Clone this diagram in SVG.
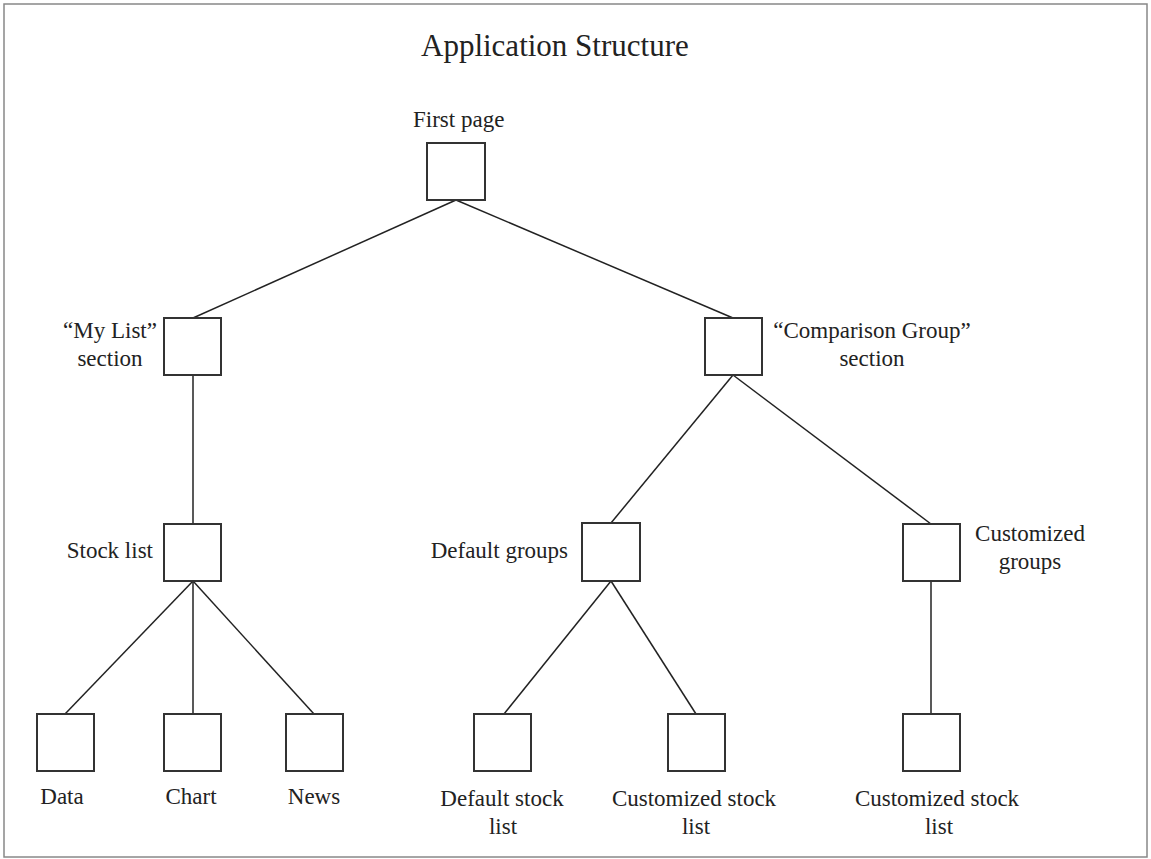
<svg xmlns="http://www.w3.org/2000/svg" width="1151" height="859" viewBox="0 0 1151 859">
<style>
.box{fill:#fff;stroke:#333;stroke-width:2}
.ln{stroke:#222;stroke-width:1.5;fill:none}
text{font-family:"Liberation Serif","Times New Roman",serif;font-size:23px;fill:#222}
.t{font-size:31px}
.m{text-anchor:middle}
.e{text-anchor:end}
</style>
<rect x="0" y="0" width="1151" height="859" fill="#fff"/>
<rect x="4" y="4" width="1143" height="853" fill="none" stroke="#888" stroke-width="1.5"/>
<text class="t" x="421" y="56">Application Structure</text>
<g id="connectors">
<line class="ln" x1="456" y1="200" x2="193" y2="318"/>
<line class="ln" x1="456" y1="200" x2="733" y2="318"/>
<line class="ln" x1="193" y1="375" x2="193" y2="524"/>
<line class="ln" x1="193" y1="581" x2="65" y2="714"/>
<line class="ln" x1="193" y1="581" x2="193" y2="714"/>
<line class="ln" x1="193" y1="581" x2="314" y2="714"/>
<line class="ln" x1="733" y1="375" x2="611" y2="523"/>
<line class="ln" x1="733" y1="375" x2="931" y2="524"/>
<line class="ln" x1="611" y1="581" x2="504" y2="714"/>
<line class="ln" x1="611" y1="581" x2="696" y2="714"/>
<line class="ln" x1="931" y1="581" x2="931" y2="714"/>
</g>
<g id="first-page"><rect class="box" x="427" y="143" width="58" height="57"/><text x="413" y="127">First page</text></g>
<g id="my-list"><rect class="box" x="164" y="318" width="57" height="57"/><text class="m" x="110" y="338">“My List”</text><text class="m" x="110" y="366">section</text></g>
<g id="comparison"><rect class="box" x="705" y="318" width="57" height="57"/><text class="m" x="872" y="338">“Comparison Group”</text><text class="m" x="872" y="366">section</text></g>
<g id="stock-list"><rect class="box" x="164" y="524" width="57" height="57"/><text class="e" x="153" y="558">Stock list</text></g>
<g id="default-groups"><rect class="box" x="582" y="523" width="58" height="58"/><text class="e" x="568" y="558">Default groups</text></g>
<g id="customized-groups"><rect class="box" x="903" y="524" width="57" height="57"/><text class="m" x="1030" y="541">Customized</text><text class="m" x="1030" y="569">groups</text></g>
<g id="data"><rect class="box" x="37" y="714" width="57" height="57"/><text class="m" x="62" y="804">Data</text></g>
<g id="chart"><rect class="box" x="164" y="714" width="57" height="57"/><text class="m" x="191" y="804">Chart</text></g>
<g id="news"><rect class="box" x="286" y="714" width="57" height="57"/><text class="m" x="314" y="804">News</text></g>
<g id="default-stock-list"><rect class="box" x="474" y="714" width="57" height="57"/><text class="m" x="502" y="806">Default stock</text><text class="m" x="503" y="834">list</text></g>
<g id="customized-stock-list-1"><rect class="box" x="668" y="714" width="57" height="57"/><text class="m" x="694" y="806">Customized stock</text><text class="m" x="696" y="834">list</text></g>
<g id="customized-stock-list-2"><rect class="box" x="903" y="714" width="57" height="57"/><text class="m" x="937" y="806">Customized stock</text><text class="m" x="939" y="834">list</text></g>
</svg>
